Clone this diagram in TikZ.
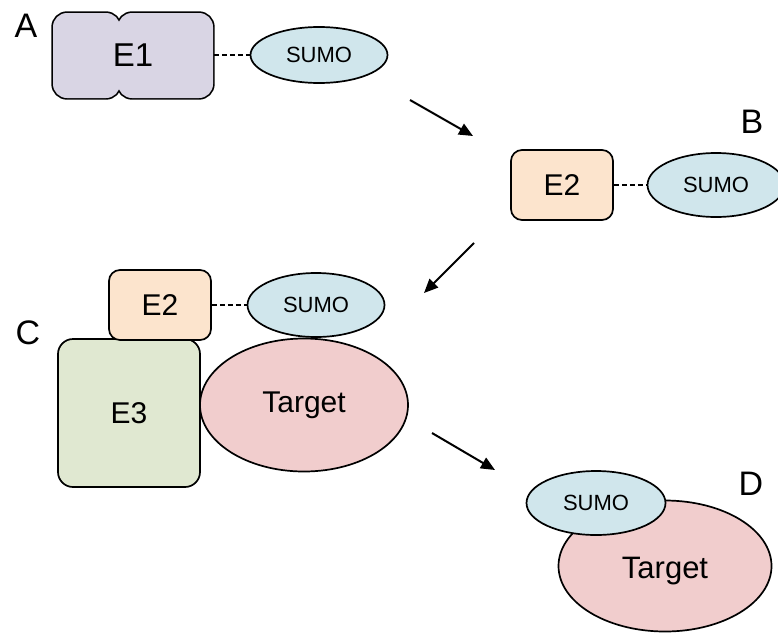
\documentclass[tikz,border=0pt]{standalone}
\usepackage{fontspec}
\setmainfont{Liberation Sans}
\usetikzlibrary{arrows.meta,positioning,shapes.geometric}
\definecolor{lilac}{HTML}{D9D5E4}
\definecolor{peach}{HTML}{FCE4CD}
\definecolor{aqua}{HTML}{D0E6EC}
\definecolor{sage}{HTML}{E0E8D1}
\definecolor{rose}{HTML}{F1CDCD}

\begin{document}
\begin{tikzpicture}[x=1pt,y=-1pt,line width=1.7pt,
    enzyme/.style={draw,rounded corners=11pt,inner sep=0pt,
                   font=\fontsize{30}{32}\selectfont},
    sumo/.style={ellipse,draw,fill=aqua,inner sep=0pt,
                 minimum width=137pt,minimum height=56pt,
                 font=\fontsize{22}{24}\selectfont},
    target/.style={ellipse,draw,fill=rose,inner sep=0pt,
                   font=\fontsize{30}{32}\selectfont},
    link/.style={dash pattern=on 5pt off 3pt,line width=1.8pt},
    flow/.style={line width=2pt,-{Triangle[length=14pt,width=12pt]}},
    tag/.style={font=\fontsize{34}{36}\selectfont}]
  \clip (0,0) rectangle (778,632);

  % A: E1 carrying SUMO (two lobes joined by a notch)
  \draw[line width=3.4pt,rounded corners=14pt]
    (53,13) rectangle (120,98) (118,13) rectangle (213,98);
  \fill[lilac,rounded corners=14pt]
    (53,13) rectangle (120,98) (118,13) rectangle (213,98);
  \node[minimum width=160pt,minimum height=85pt,inner sep=0pt,
        font=\fontsize{33}{36}\selectfont] (e1) at (133,55) {E1};
  \node[sumo] (sumoA) at (319,55) {SUMO};
  \draw[link] (e1.east) -- (sumoA.west);
  \node[tag] (tagA) at (26,26) {A};

  % B: handed over to E2
  \node[enzyme,fill=peach,minimum width=102pt,minimum height=70pt]
    (e2B) at (562,185) {E2};
  \node[sumo,minimum height=64pt] (sumoB) at (716,185) {SUMO};
  \draw[link] (e2B.east) -- (sumoB.west);
  \node[tag] (tagB) at (752,122) {B};

  % C: E2/E3 bring SUMO to the target
  \node[enzyme,fill=sage,minimum width=142pt,minimum height=148pt,
        rounded corners=15pt] (e3) at (129,413) {E3};
  \node[target,minimum width=208pt,minimum height=133pt]
    (targetC) at (304,405) {Target};
  \node[enzyme,fill=peach,minimum width=102pt,minimum height=70pt]
    (e2C) at (160,305) {E2};
  \node[sumo,minimum height=64pt] (sumoC) at (316,305) {SUMO};
  \draw[link] (e2C.east) -- (sumoC.west);
  \node[tag] (tagC) at (28,333) {C};

  % D: SUMO left on the target
  \node[target,minimum width=213pt,minimum height=131pt] (targetD) at (665,566) {};
  \node[font=\fontsize{31}{33}\selectfont] (targetDtext) at (665,571) {Target};
  \node[sumo,minimum width=139pt,minimum height=64pt] (sumoD) at (596,503) {SUMO};
  \node[tag] (tagD) at (751,484) {D};

  % steps between the stages
  \coordinate (s1a) at (410,100);
  \coordinate (s1b) at (473,136);
  \coordinate (s2a) at (474,243);
  \coordinate (s2b) at (424,293);
  \coordinate (s3a) at (432,433);
  \coordinate (s3b) at (495,470);
  \draw[flow] (s1a) -- (s1b);
  \draw[flow] (s2a) -- (s2b);
  \draw[flow] (s3a) -- (s3b);
\end{tikzpicture}
\end{document}
